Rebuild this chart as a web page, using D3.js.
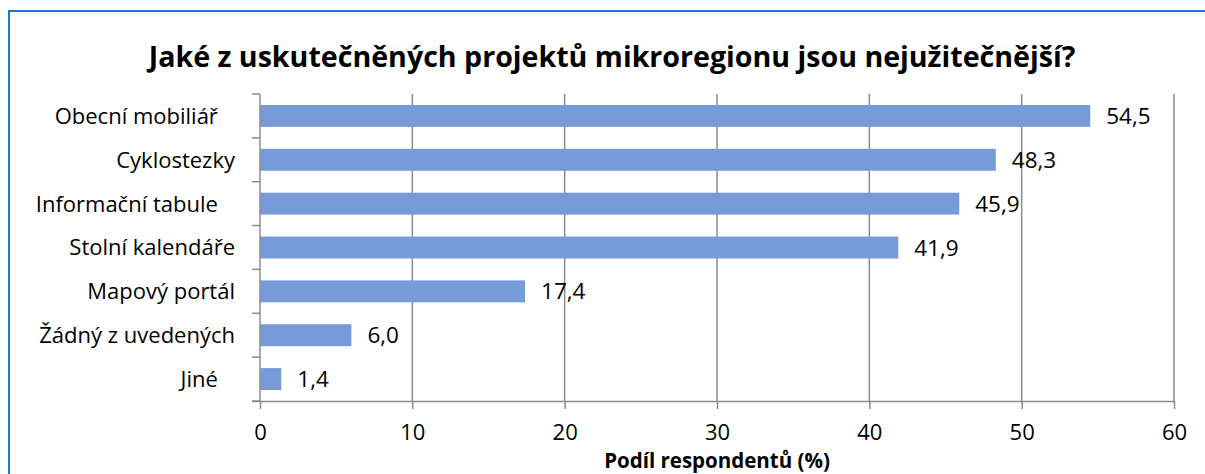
<!DOCTYPE html>
<html><head><meta charset="utf-8">
<script src="https://cdn.jsdelivr.net/npm/d3@7"></script>
<style>body{margin:0;background:#fff}svg{display:block}text{font-family:"Open Sans",sans-serif}</style>
</head><body><svg id="c" width="1205" height="474"></svg>
<script>
const categories = ["Obecní mobiliář   ","Cyklostezky","Informační tabule   ","Stolní kalendáře","Mapový portál","Žádný z uvedených","Jiné   "];
const values = [54.5,48.3,45.9,41.9,17.4,6.0,1.4];
const xTicks = [0,10,20,30,40,50,60];
const title = "Jaké z uskutečněných projektů mikroregionu jsou nejužitečnější?";
const xTitle = "Podíl respondentů (%)";

const svg = d3.select("#c");
const m = {l:260, r:1174, t:94, b:401};
svg.append("path").attr("d","M9,474V11H1205").attr("fill","none").attr("stroke","#1f77c9").attr("stroke-width",2);
svg.append("text").attr("x",612).attr("y",67).attr("text-anchor","middle").attr("font-weight","bold").attr("font-size",28.6).attr("fill","#000").text(title);

const x = d3.scaleLinear().domain([0,60]).range([m.l,m.r]);
const y = d3.scaleBand().domain(categories).range([m.t,m.b]).paddingInner(0.5).paddingOuter(0.25);

// gridlines
svg.append("g").selectAll("line").data(xTicks.slice(1)).join("line")
 .attr("x1",d=>x(d)).attr("x2",d=>x(d)).attr("y1",m.t).attr("y2",m.b)
 .attr("stroke","#8c8c8c").attr("stroke-width",1.5);

svg.append("g").selectAll("rect").data(values).join("rect")
 .attr("x",x(0)).attr("y",(d,i)=>y(categories[i])).attr("width",d=>x(d)-x(0)).attr("height",y.bandwidth())
 .attr("fill","#779bd8");

svg.append("g").selectAll("text").data(values).join("text")
 .attr("x",d=>x(d)+16).attr("y",(d,i)=>y(categories[i])+y.bandwidth()/2).attr("dy","0.36em")
 .attr("font-size",22.5).attr("fill","#000").text(d=>d.toFixed(1).replace(".",","));

// x axis
const xa = svg.append("g").attr("transform",`translate(0,${m.b})`)
 .call(d3.axisBottom(x).tickValues(xTicks).tickSize(8).tickPadding(15).tickFormat(d3.format("d")));
xa.select(".domain").attr("stroke","#8c8c8c").attr("stroke-width",1.5).attr("d",`M${m.l-8},0.5H${m.r}`);
xa.selectAll(".tick line").attr("stroke","#8c8c8c").attr("stroke-width",1.5);
xa.selectAll("text").attr("font-size",22).attr("fill","#000").attr("font-family","Open Sans");

// y axis
const bnd = d3.range(categories.length+1).map(i=>m.t + i*(m.b-m.t)/categories.length);
svg.append("line").attr("x1",m.l).attr("x2",m.l).attr("y1",m.t).attr("y2",m.b).attr("stroke","#8c8c8c").attr("stroke-width",1.5);
svg.append("g").selectAll("line").data(bnd).join("line")
 .attr("x1",m.l-8).attr("x2",m.l).attr("y1",d=>d).attr("y2",d=>d).attr("stroke","#8c8c8c").attr("stroke-width",1.5);
svg.append("g").selectAll("text").data(categories).join("text")
 .attr("x",m.l-25).attr("y",d=>y(d)+y.bandwidth()/2).attr("dy","0.36em").attr("text-anchor","end")
 .attr("font-size",22).attr("fill","#000").attr("xml:space","preserve").style("white-space","pre").text(d=>d);

svg.append("text").attr("x",717).attr("y",468).attr("text-anchor","middle").attr("font-weight","bold").attr("font-size",20.5).attr("fill","#000").text(xTitle);
</script></body></html>
